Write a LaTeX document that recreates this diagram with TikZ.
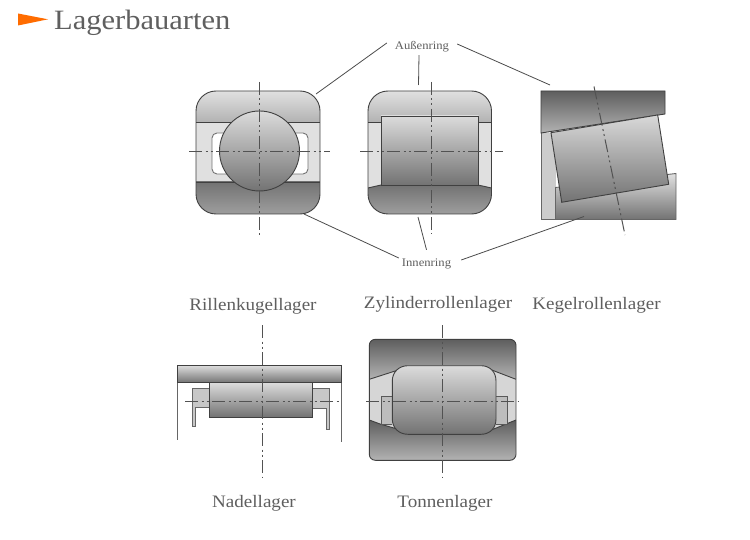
\documentclass[tikz,border=0pt]{standalone}
\usepackage{fontspec}
\setmainfont{Liberation Serif}[FakeStretch=1.09]
\usetikzlibrary{calc}
\definecolor{txt}{HTML}{5F5F5F}
\definecolor{ink}{HTML}{404040}
\definecolor{midfill}{HTML}{E0E0E0}
\tikzset{
  x=1pt,y=-1pt,
  part/.style={draw=ink,line width=0.9pt},
  ringlight/.style={top color=black!12,bottom color=black!30},
  ringdark/.style={top color=black!55,bottom color=black!38},
  ringdeep/.style={top color=black!63,bottom color=black!30},
  roller/.style={top color=black!14,bottom color=black!55},
  axisline/.style={draw=black!68,line width=1pt,dash pattern=on 13pt off 3.5pt on 2pt off 3pt on 2pt off 3.5pt},
  lead/.style={draw=black!70,line width=0.8pt},
  captext/.style={text=txt,font=\fontsize{17.5}{20}\selectfont,inner sep=0pt},
  small/.style={text=txt,font=\fontsize{11.6}{13}\selectfont,inner sep=0pt},
}
\begin{document}
\begin{tikzpicture}
\useasboundingbox (0,0) rectangle (750,540);
\fill[white] (0,0) rectangle (750,540);
% title
\fill[orange!85!red] (18,13.5) -- (48,19.3) -- (18,25.5) -- cycle;
\node[text=txt,font=\fontsize{28}{30}\selectfont,anchor=west,inner sep=0pt] (title) at (54,23) {Lagerbauarten};

% --- Rillenkugellager
\begin{scope}
\clip[rounded corners=20pt] (196,91) rectangle (320,214);
\fill[midfill] (196,122) rectangle (320,182);
\path[ringlight] (196,91) rectangle (320,122);
\path[ringdark] (196,182) rectangle (320,214);
\draw[part] (196,122) -- (320,122) (196,182) -- (320,182);
\end{scope}
\draw[part,fill=white,draw=black!55,rounded corners=5pt] (212,133) rectangle (308,174);
\draw[part,rounded corners=20pt] (196,91) rectangle (320,214);
\draw[part,roller] (259.5,151) circle (40);
\draw[axisline] (259.5,82) -- (259.5,235);
\draw[axisline] (189,152) -- (330,152);

% --- Zylinderrollenlager
\begin{scope}
\clip[rounded corners=20pt] (368,91) rectangle (491.5,214);
\fill[midfill] (368,122) rectangle (491.5,188);
\path[ringlight] (368,91) rectangle (491.5,122);
\path[ringdark] (368,188) -- (381,185) -- (478,185) -- (491.5,188) -- (491.5,214) -- (368,214) -- cycle;
\draw[part] (368,122) -- (381,122) (478,122) -- (491.5,122);
\draw[part] (368,188) -- (381,185) -- (478,185) -- (491.5,188);
\end{scope}
\draw[part,rounded corners=20pt] (368,91) rectangle (491.5,214);
\draw[part,roller] (381,116) rectangle (478.5,185);
\draw[axisline] (431,82) -- (431,234);
\draw[axisline] (360,152) -- (503,152);

% --- Kegelrollenlager
\fill[black!20] (541,133) rectangle (556,219.5);
\draw[part,draw=black!60] (541,133) -- (541,219.5) -- (556,219.5);
\path[part,draw=black!60,top color=black!12,bottom color=black!55] (555.5,187.5) -- (676,173.5) -- (676,219.5) -- (555.5,219.5) -- cycle;
\path[part,ringdeep] (541,91) -- (665,91) -- (665,114) -- (541,133) -- cycle;
\path[part,top color=black!15,bottom color=black!55] (551,132.7) -- (657.7,115) -- (668.7,184.3) -- (561.7,202.3) -- cycle;
\draw[axisline] (594,86.5) -- (625,235);

% --- Nadellager
\draw[part,draw=black!60] (177.7,382.7) -- (177.7,440);
\draw[part,draw=black!60] (341,382.7) -- (341,442);
\draw[part,draw=black!60,fill=black!22] (209,388.3) -- (192,388.3) -- (192,426) -- (195.3,426) -- (195.3,407.3) -- (209,407.3);
\draw[part,draw=black!60,fill=black!22] (312.3,388.3) -- (329.7,388.3) -- (329.7,429) -- (326.3,429) -- (326.3,408.3) -- (312.3,408.3);
\path[part,top color=black!14,bottom color=black!55] (177.7,365.7) rectangle (341,382.7);
\path[part,roller] (209,382.7) rectangle (312.3,417);
\draw[axisline] (262.3,325) -- (262.3,478);
\draw[axisline] (185,401.7) -- (340,401.7);

% --- Tonnenlager
\begin{scope}
\clip[rounded corners=6pt] (369.3,339.3) rectangle (516,460.3);
\fill[black!16] (369.3,370) rectangle (516,430);
\path[ringdeep] (369.3,339.3) -- (516,339.3) -- (516,379.3) -- (491.7,370) -- (398.3,370) -- (369.3,379.3) -- cycle;
\path[ringdeep] (369.3,420) -- (380,424) -- (398.3,429.3) -- (493,429.3) -- (516,420) -- (516,460.3) -- (369.3,460.3) -- cycle;
\draw[part] (369.3,379.3) -- (398.3,370) (491.7,370) -- (516,379.3);
\draw[part] (369.3,420) -- (380,424) -- (398.3,429.3) (493,429.3) -- (516,420);
\end{scope}
\draw[part,draw=black!65,fill=black!26] (392,396.7) -- (381,396.7) -- (381,424) -- (392,424);
\draw[part,draw=black!65,fill=black!26] (496,396.7) -- (507.3,396.7) -- (507.3,424) -- (496,424);
\draw[part,rounded corners=6pt] (369.3,339.3) rectangle (516,460.3);
\path[part,roller] (408,365.7) .. controls (399,365.7) and (392.3,372) .. (392.3,381)
  -- (392.3,419) .. controls (392.3,428) and (399,434.3) .. (408,434.3)
  -- (481,434.3) .. controls (490,434.3) and (496,428) .. (496,419)
  -- (496,381) .. controls (496,372) and (490,365.7) .. (481,365.7) -- cycle;
\draw[axisline] (442.3,325) -- (442.3,478);
\draw[axisline] (366,401) -- (519,401);

% --- labels
\node[small,minimum width=70pt,minimum height=16pt] (aus) at (422,47) {Außenring};
\node[small,minimum width=55pt,minimum height=28pt] (inn) at (426.5,264) {Innenring};
\coordinate (a1) at (316,94);
\coordinate (a2) at (418.5,85);
\coordinate (a3) at (550,85);
\coordinate (i1) at (304,214);
\coordinate (i2) at (418,217);
\coordinate (i3) at (584,216.5);
\draw[lead] (aus.west) ++(0,-4) -- (a1);
\draw[lead] (aus.south) ++(-3,0) -- (a2);
\draw[lead] (aus.east) ++(0,-3) -- (a3);
\draw[lead] (inn.west) ++(0,-6) -- (i1);
\draw[lead] (inn.north) -- (i2);
\draw[lead] (inn.east) ++(7,-4) -- (i3);

\node[captext] (c1) at (253,306) {Rillenkugellager};
\node[captext] (c2) at (438,304.5) {Zylinderrollenlager};
\node[captext] (c3) at (596.5,305) {Kegelrollenlager};
\node[captext] (c4) at (254,503.5) {Nadellager};
\node[captext] (c5) at (445,503.5) {Tonnenlager};
\end{tikzpicture}
\end{document}
